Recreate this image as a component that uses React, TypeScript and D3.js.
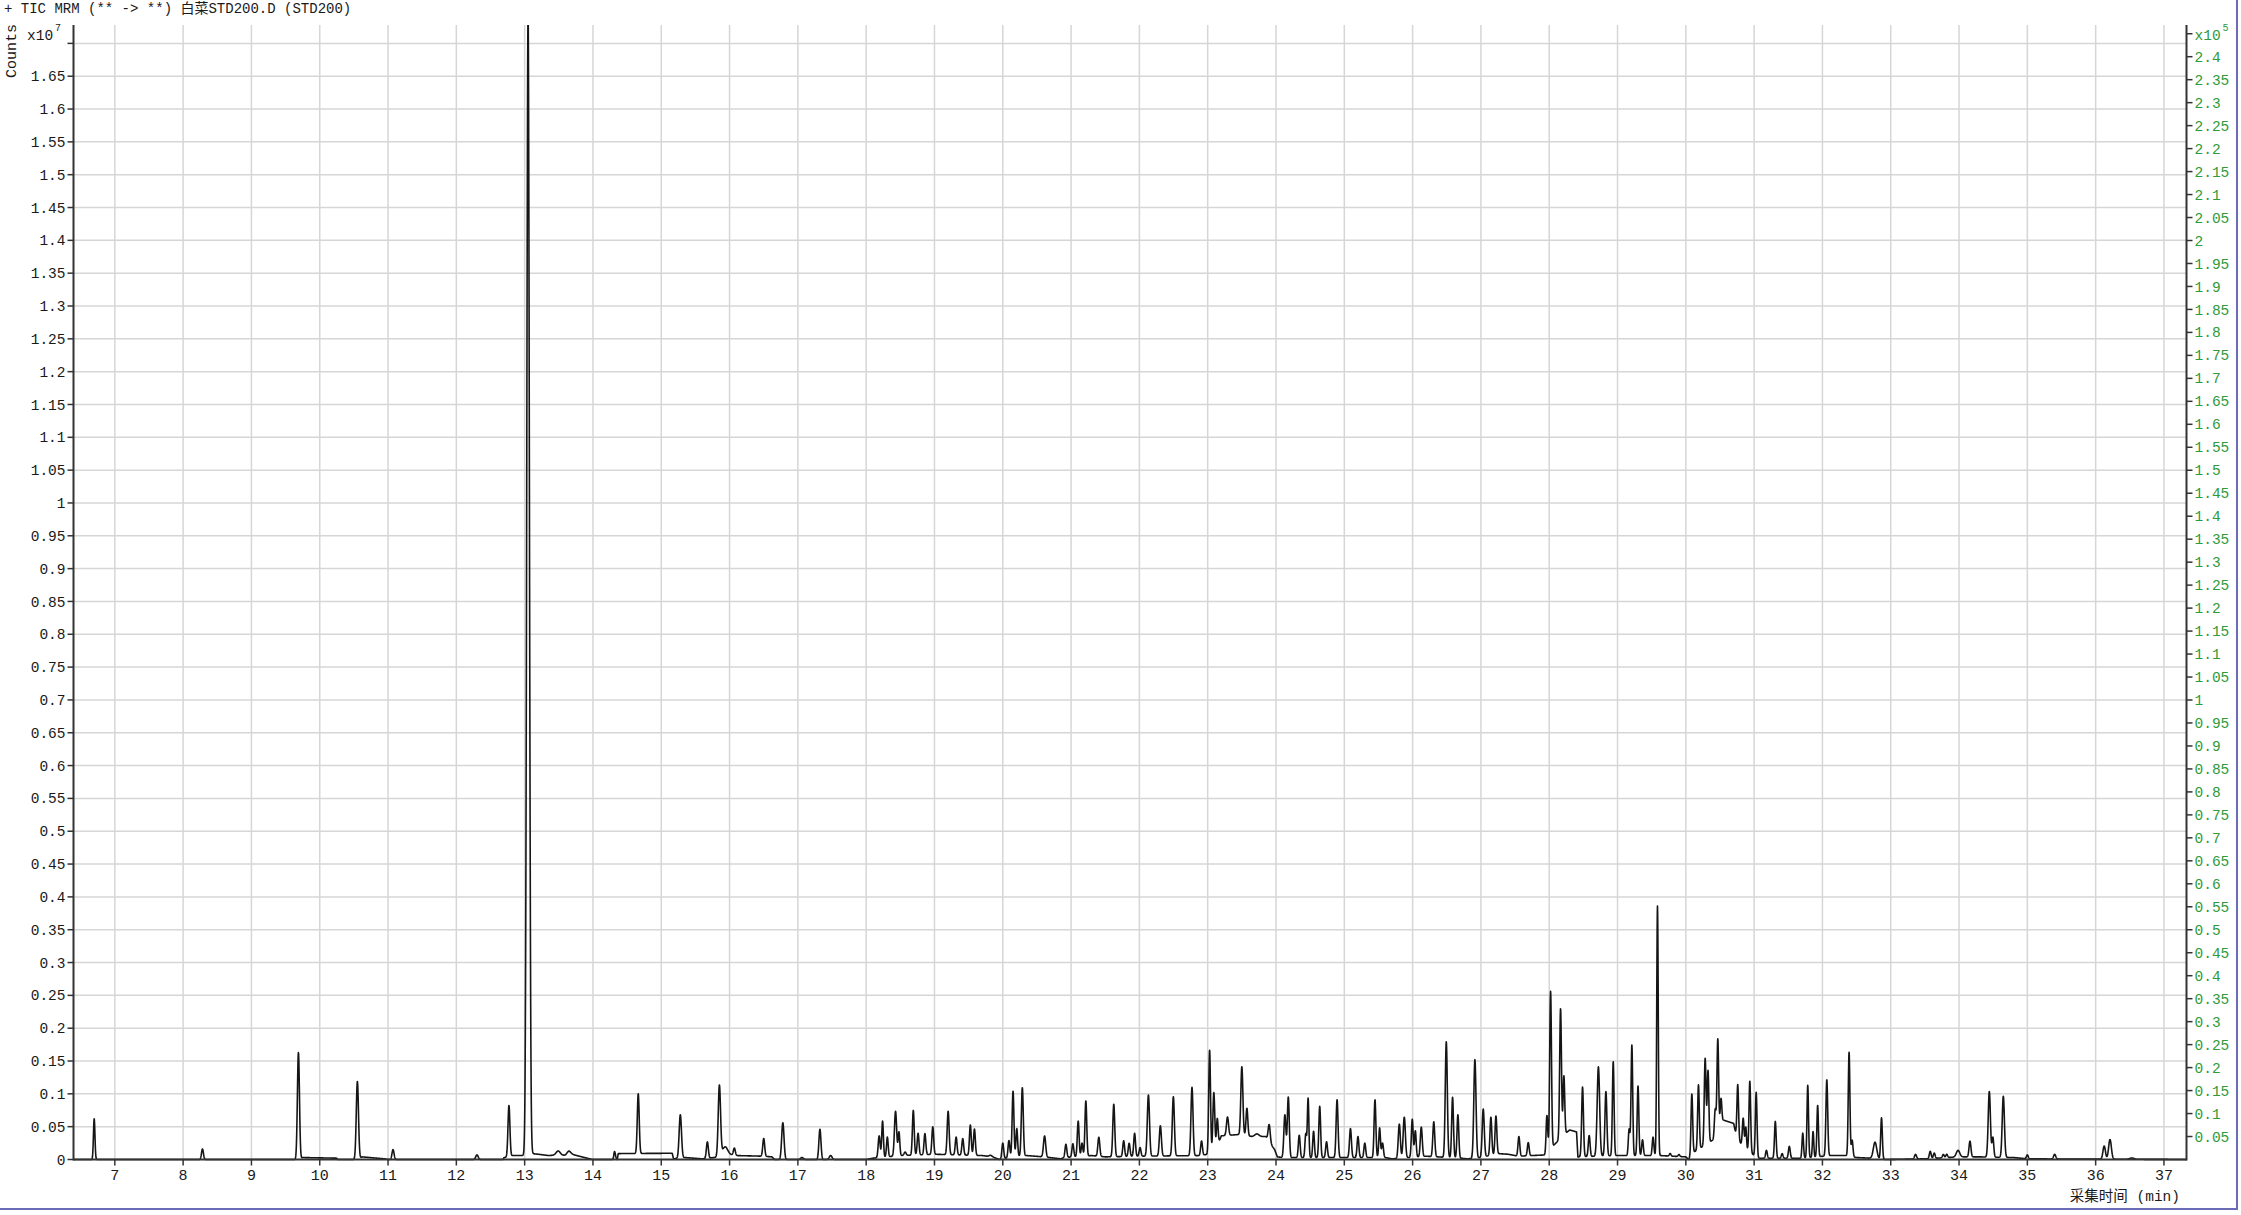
import React from 'react';
import * as d3 from 'd3';

// ---------- data ----------
const TITLE = '+ TIC MRM (** -> **) 白菜STD200.D (STD200)';
const X_LABEL = '采集时间 (min)';
const X_DOMAIN = [6.395, 37.33];
const Y_MAX = 1.728; // x10^7 counts
const Y2_MAX = 2.469; // x10^5
const xTickValues = d3.range(7, 38);
const yTickIdx = d3.range(0, 35); // 0 .. 1.70 step 0.05
const y2TickIdx = d3.range(1, 50); // 0.05 .. 2.45

// peaks: [retention time (min), height (x10^7), sigma (min)]
const peaksEarly: [number, number, number][] = [
  [6.698, 0.062, 0.011], [8.283, 0.016, 0.014], [9.688, 0.163, 0.015], [10.551, 0.119, 0.016],
  [11.073, 0.015, 0.015], [12.302, 0.007, 0.018], [12.770, 0.078, 0.014], [13.05, 1.74, 0.019],
  [13.49, 0.006, 0.03], [13.645, 0.004, 0.03], [14.315, 0.010, 0.01], [14.663, 0.091, 0.014],
  [15.279, 0.066, 0.017], [15.675, 0.025, 0.014], [15.851, 0.108, 0.017], [15.93, 0.012, 0.04],
  [16.07, 0.011, 0.014], [16.50, 0.027, 0.014], [16.78, 0.056, 0.017], [17.06, 0.003, 0.02],
  [17.323, 0.046, 0.015], [17.48, 0.006, 0.02],
];
const peaksMid: [number, number, number][] = [
  [18.19, 0.033, 0.014], [18.24, 0.055, 0.012], [18.31, 0.030, 0.012], [18.43, 0.068, 0.016],
  [18.48, 0.036, 0.012], [18.57, 0.005, 0.015], [18.69, 0.068, 0.013], [18.76, 0.033, 0.013],
  [18.86, 0.032, 0.013], [18.975, 0.042, 0.013], [19.20, 0.066, 0.014], [19.317, 0.027, 0.013],
  [19.414, 0.025, 0.013], [19.525, 0.046, 0.013], [19.585, 0.040, 0.013], [19.82, 0.002, 0.02],
  [20.0, 0.024, 0.013], [20.09, 0.026, 0.013], [20.15, 0.100, 0.013], [20.205, 0.042, 0.012],
  [20.286, 0.104, 0.014], [20.612, 0.032, 0.016], [20.924, 0.020, 0.013], [21.026, 0.020, 0.013],
  [21.104, 0.054, 0.013], [21.16, 0.020, 0.012], [21.216, 0.084, 0.013], [21.406, 0.029, 0.014],
  [21.625, 0.080, 0.014], [21.77, 0.024, 0.013], [21.85, 0.020, 0.013], [21.93, 0.035, 0.013],
  [22.01, 0.013, 0.013], [22.132, 0.093, 0.016], [22.307, 0.046, 0.015], [22.497, 0.090, 0.015],
  [22.77, 0.104, 0.015], [22.91, 0.022, 0.013], [23.028, 0.158, 0.013], [23.09, 0.092, 0.014],
  [23.14, 0.042, 0.012], [23.29, 0.028, 0.015], [23.50, 0.104, 0.015], [23.574, 0.042, 0.013],
  [23.72, 0.004, 0.03], [23.90, 0.026, 0.015], [24.13, 0.065, 0.015], [24.18, 0.092, 0.014],
  [24.34, 0.034, 0.013], [24.436, 0.036, 0.012], [24.47, 0.090, 0.011], [24.55, 0.040, 0.012],
  [24.64, 0.078, 0.013], [24.74, 0.024, 0.013], [24.894, 0.088, 0.014], [25.09, 0.044, 0.014],
  [25.20, 0.032, 0.013], [25.30, 0.022, 0.013],
];
const peaksLate: [number, number, number][] = [
  [25.449, 0.088, 0.013], [25.517, 0.045, 0.012], [25.56, 0.022, 0.013], [25.805, 0.052, 0.015],
  [25.878, 0.062, 0.016], [25.995, 0.058, 0.013], [26.04, 0.040, 0.012], [26.127, 0.045, 0.014],
  [26.31, 0.053, 0.014], [26.493, 0.176, 0.015], [26.585, 0.092, 0.013], [26.663, 0.066, 0.013],
  [26.912, 0.150, 0.016], [27.034, 0.073, 0.015], [27.146, 0.058, 0.013], [27.22, 0.058, 0.013],
  [27.556, 0.030, 0.013], [27.693, 0.020, 0.013], [27.966, 0.058, 0.012], [28.02, 0.240, 0.013],
  [28.166, 0.198, 0.013], [28.215, 0.090, 0.012], [28.488, 0.106, 0.013], [28.585, 0.032, 0.013],
  [28.72, 0.136, 0.018], [28.83, 0.098, 0.014], [28.937, 0.143, 0.012], [29.17, 0.040, 0.012],
  [29.21, 0.168, 0.012], [29.30, 0.106, 0.012], [29.366, 0.024, 0.012], [29.52, 0.028, 0.012],
  [29.585, 0.380, 0.011], [29.77, 0.004, 0.012], [29.90, 0.003, 0.012], [30.088, 0.092, 0.012],
  [30.185, 0.098, 0.012], [30.283, 0.132, 0.013], [30.325, 0.110, 0.012], [30.43, 0.040, 0.012],
  [30.468, 0.140, 0.012], [30.515, 0.040, 0.012], [30.76, 0.085, 0.012], [30.84, 0.042, 0.012],
  [30.878, 0.032, 0.010], [30.937, 0.108, 0.012], [31.03, 0.098, 0.012], [31.18, 0.012, 0.012],
  [31.31, 0.056, 0.012], [31.41, 0.007, 0.012], [31.515, 0.018, 0.013], [31.712, 0.038, 0.011],
  [31.785, 0.110, 0.011], [31.863, 0.039, 0.010], [31.93, 0.078, 0.011], [32.064, 0.116, 0.013],
  [32.39, 0.158, 0.012], [32.435, 0.025, 0.012], [32.77, 0.025, 0.025], [32.865, 0.063, 0.012],
  [33.363, 0.007, 0.015], [33.578, 0.011, 0.013], [33.637, 0.008, 0.013], [33.77, 0.005, 0.013],
  [33.82, 0.005, 0.013], [33.985, 0.010, 0.025], [34.16, 0.024, 0.014], [34.443, 0.100, 0.016],
  [34.495, 0.030, 0.013], [34.648, 0.093, 0.016], [35.0, 0.006, 0.013], [35.4, 0.007, 0.016],
  [36.125, 0.020, 0.018], [36.21, 0.030, 0.020], [36.53, 0.002, 0.03],
];

// baseline breakpoints: [time, level]
const baseline: [number, number][] = [
  [6.395, 0], [9.70, 0], [9.75, 0.003], [10.25, 0.002], [10.26, 0], [10.56, 0], [10.62, 0.004],
  [10.95, 0.001], [11.0, 0], [12.68, 0], [12.70, 0.003], [12.76, 0.004], [12.82, 0.006], [13.0, 0.006],
  [13.1, 0.009], [13.2, 0.008], [13.35, 0.006], [13.5, 0.007], [13.6, 0.006], [13.65, 0.009], [13.99, 0],
  [14.30, 0], [14.33, 0.004], [14.355, 0], [14.37, 0.009], [15.16, 0.0095], [15.18, 0.001], [15.35, 0.003],
  [15.6, 0.001], [15.86, 0.004], [15.95, 0.008], [16.1, 0.006], [16.5, 0.005], [16.62, 0.004], [16.66, 0],
  [18.0, 0], [18.1, 0.002], [18.5, 0.006], [19.0, 0.008], [19.7, 0.006], [19.85, 0.004], [19.95, 0],
  [20.2, 0.005], [20.35, 0.006], [20.6, 0.004], [20.85, 0.001], [20.9, 0.003], [21.3, 0.006], [21.5, 0.004],
  [22.0, 0.005], [22.9, 0.006], [23.1, 0.01], [23.2, 0.036], [23.45, 0.038], [23.65, 0.035], [23.85, 0.035],
  [23.98, 0.015], [24.02, 0.004], [24.1, 0.003], [25.6, 0.003], [25.7, 0.001], [26.2, 0.005], [26.7, 0.002],
  [26.8, 0.001], [27.0, 0.003], [27.25, 0.009], [27.4, 0.008], [27.55, 0.005], [27.75, 0.006], [27.95, 0.007],
  [28.05, 0.02], [28.24, 0.04], [28.3, 0.045], [28.4, 0.042], [28.42, 0.004], [28.95, 0.006], [29.1, 0.006],
  [29.62, 0.006], [30.0, 0.004], [30.04, 0], [30.1, 0.01], [30.4, 0.03], [30.55, 0.06], [30.7, 0.055],
  [30.75, 0.03], [30.95, 0.01], [31.06, 0.002], [31.7, 0.002], [32.1, 0.006], [32.35, 0.006], [32.5, 0.003],
  [32.7, 0.002], [32.92, 0], [33.5, 0.001], [34.0, 0.004], [34.3, 0.004], [34.8, 0.003], [35.0, 0.001],
  [37.33, 0],
];

// ---------- layout ----------
const W = 2241, H = 1215;
const PL = 73.5, PR = 2186.5, PT = 25, PB = 1159.5;
const FONT = "'Liberation Mono', 'Noto Sans CJK SC', monospace";

function fmt(v: number) {
  return String(+v.toFixed(2));
}

export default function App() {
  const x = d3.scaleLinear().domain(X_DOMAIN).range([PL, PR]);
  const y = d3.scaleLinear().domain([0, Y_MAX]).range([PB, PT]);
  const y2 = d3.scaleLinear().domain([0, Y2_MAX]).range([PB, PT]);

  const step = 0.0025;
  const n = Math.floor((X_DOMAIN[1] - X_DOMAIN[0]) / step) + 1;
  const base = d3.scaleLinear().domain(baseline.map(d => d[0])).range(baseline.map(d => d[1])).clamp(true);
  const vals = new Float64Array(n);
  for (let i = 0; i < n; i++) vals[i] = base(X_DOMAIN[0] + i * step);
  const allPeaks = [...peaksEarly, ...peaksMid, ...peaksLate];
  for (const [t, h, s] of allPeaks) {
    const i0 = Math.max(0, Math.floor((t - 6 * s - X_DOMAIN[0]) / step));
    const i1 = Math.min(n - 1, Math.ceil((t + 6 * s - X_DOMAIN[0]) / step));
    for (let i = i0; i <= i1; i++) {
      const tt = X_DOMAIN[0] + i * step;
      const z = (tt - t) / s;
      vals[i] += h * Math.exp(-0.5 * z * z);
    }
  }
  const pts: [number, number][] = [];
  for (let i = 0; i < n; i++) pts.push([X_DOMAIN[0] + i * step, vals[i]]);
  const line = d3.line<[number, number]>().x(d => x(d[0])).y(d => y(d[1]));
  const pathD = line(pts) || '';

  return (
    <svg width={W} height={H} style={{ position: 'absolute', left: 0, top: 0, background: '#fff' }}
      xmlns="http://www.w3.org/2000/svg">
      <defs>
        <clipPath id="plotClip">
          <rect x={PL} y={PT} width={PR - PL} height={PB - PT + 2} />
        </clipPath>
      </defs>
      <rect x={0} y={0} width={W} height={H} fill="#fff" />
      {/* grid */}
      <g stroke="#d6d6d6" strokeWidth={1.5}>
        {xTickValues.map(v => (
          <line key={'gx' + v} x1={x(v)} x2={x(v)} y1={PT} y2={PB} />
        ))}
        {yTickIdx.filter(i => i > 0).map(i => (
          <line key={'gy' + i} x1={PL} x2={PR} y1={y(i / 20)} y2={y(i / 20)} />
        ))}
      </g>
      {/* trace */}
      <path d={pathD} fill="none" stroke="#151515" strokeWidth={1.6} strokeLinejoin="round" clipPath="url(#plotClip)" />
      {/* axes */}
      <g stroke="#333" strokeWidth={2}>
        <line x1={PL} x2={PL} y1={PT} y2={PB + 1} />
        <line x1={PR} x2={PR} y1={PT} y2={PB + 1} />
        <line x1={PL} x2={PR} y1={PB} y2={PB} />
      </g>
      {/* left ticks */}
      <g fontFamily={FONT} fontSize={14.5} fill="#1a1a1a">
        {yTickIdx.map(i => (
          <g key={'yt' + i}>
            <line x1={PL - 6} x2={PL} y1={y(i / 20)} y2={y(i / 20)} stroke="#333" strokeWidth={1.5} />
            {i <= 33 && (
              <text x={PL - 8} y={y(i / 20)} dy="0.35em" textAnchor="end">{fmt(i / 20)}</text>
            )}
          </g>
        ))}
        <text x={27} y={40}>x10</text>
        <text x={55} y={31} fontSize={10}>7</text>
        <text transform={`translate(16,51) rotate(-90)`} textAnchor="middle" fontSize={15}>Counts</text>
      </g>
      {/* right ticks */}
      <g fontFamily={FONT} fontSize={14.5} fill="#2f9a3a">
        {y2TickIdx.map(i => (
          <g key={'y2t' + i}>
            <line x1={PR} x2={PR + 6} y1={y2(i / 20)} y2={y2(i / 20)} stroke="#333" strokeWidth={1.5} />
            {i <= 48 && (
              <text x={PR + 8} y={y2(i / 20)} dy="0.35em" textAnchor="start">{fmt(i / 20)}</text>
            )}
          </g>
        ))}
        <text x={PR + 8} y={40}>x10</text>
        <text x={PR + 36} y={31} fontSize={10}>5</text>
      </g>
      {/* x ticks */}
      <g fontFamily={FONT} fontSize={15} fill="#1a1a1a">
        {xTickValues.map(v => (
          <g key={'xt' + v}>
            <line x1={x(v)} x2={x(v)} y1={PB} y2={PB + 6} stroke="#333" strokeWidth={1.5} />
            <text x={x(v)} y={PB + 20} textAnchor="middle">{v}</text>
          </g>
        ))}
        <text x={2180} y={1201} textAnchor="end" fontSize={14.5}>{X_LABEL}</text>
      </g>
      {/* title */}
      <text x={4} y={13} fontFamily={FONT} fontSize={14} fill="#1a1a1a">{TITLE}</text>
      {/* frame */}
      <g stroke="#6b6bb8" strokeWidth={2}>
        <line x1={0} x2={2238} y1={1209} y2={1209} />
        <line x1={2237} x2={2237} y1={0} y2={1210} />
      </g>
    </svg>
  );
}
